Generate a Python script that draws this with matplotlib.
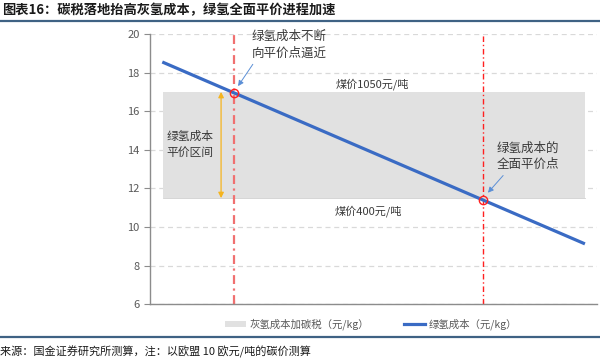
import matplotlib
matplotlib.use("Agg")
import matplotlib.pyplot as plt
from matplotlib.patches import Patch
from matplotlib.lines import Line2D

plt.rcParams['font.family'] = ['Noto Sans CJK SC', 'DejaVu Sans']

# ---- data ----
green_x = [2.75, 97.3]            # position along the (unlabelled) horizontal axis
green_cost = [18.55, 9.13]        # 绿氢成本 (元/kg)
band_x = [2.8, 97.3]              # extent of grey band
grey_cost_low = 11.5              # 煤价400元/吨 灰氢成本加碳税
grey_cost_high = 17.0             # 煤价1050元/吨 灰氢成本加碳税
parity_x = [18.7, 74.5]           # 平价点
parity_y = [16.96, 11.42]
yticks = [6, 8, 10, 12, 14, 16, 18, 20]

title = "图表16：碳税落地抬高灰氢成本，绿氢全面平价进程加速"
source = "来源：国金证券研究所测算，注：以欧盟 10 欧元/吨的碳价测算"

W, H = 600, 359
fig = plt.figure(figsize=(6, 3.59), dpi=100)
ax = fig.add_axes([150 / W, 1 - 304.3 / H, 447 / W, (304.3 - 34) / H])

ax.set_xlim(0, 100)
ax.set_ylim(6, 20)
ax.set_yticks(yticks)
ax.grid(axis='y', color='#d9d9d9', linestyle=(0, (4, 3)), linewidth=0.9)
ax.set_axisbelow(True)

# grey band
ax.fill_between(band_x, grey_cost_low, grey_cost_high, color='#e1e1e1', zorder=1, linewidth=0)
ax.plot(band_x, [grey_cost_low] * 2, color='#cfcfcf', lw=0.6, zorder=1)

# parity vertical lines
ax.axvline(parity_x[0], color='#f07070', lw=1.6, linestyle=(0, (4, 2, 1, 2)), zorder=2)
ax.axvline(parity_x[1], color='#ff2020', lw=1.0, linestyle=(0, (4, 2, 1, 2)), zorder=2)

# green hydrogen cost line
ax.plot(green_x, green_cost, color='#3a6bc4', lw=2.3, zorder=3, solid_capstyle='butt')

# circles at parity points
ax.plot(parity_x, parity_y, linestyle='none', marker='o', markersize=6,
        markerfacecolor='none', markeredgecolor='#ff2020', markeredgewidth=1.0, zorder=4)

# orange double arrow
ax.annotate('', xy=(15.9, grey_cost_low), xytext=(15.9, grey_cost_high),
            arrowprops=dict(arrowstyle='<|-|>', color='#f5b41e', lw=0.9,
                            mutation_scale=8, shrinkA=0, shrinkB=0), zorder=3)

# texts
tc = '#3a3a3a'
ax.text(22.8, 19.45, "绿氢成本不断\n向平价点逼近", fontsize=9, color=tc, va='center', ha='left',
        linespacing=1.35)
ax.annotate('', xy=(19.7, 17.3), xytext=(23.0, 18.43),
            arrowprops=dict(arrowstyle='-|>', color='#5b8fd6', lw=0.7, mutation_scale=8,
                            shrinkA=0, shrinkB=0))
ax.text(49.7, 17.39, "煤价1050元/吨", fontsize=8, color=tc, ha='center', va='center')
ax.text(8.9, 14.25, "绿氢成本\n平价区间", fontsize=8.5, color=tc, ha='center', va='center',
        linespacing=1.35)
ax.text(84.5, 13.65, "绿氢成本的\n全面平价点", fontsize=9, color=tc, ha='center', va='center',
        linespacing=1.35)
ax.annotate('', xy=(75.6, 11.78), xytext=(79.0, 12.67),
            arrowprops=dict(arrowstyle='-|>', color='#5b8fd6', lw=0.7, mutation_scale=8,
                            shrinkA=0, shrinkB=0))
ax.text(48.9, 10.85, "煤价400元/吨", fontsize=8, color=tc, ha='center', va='center')

# axes styling
for s in ['top', 'right']:
    ax.spines[s].set_visible(False)
ax.spines['left'].set_color('#8c8c8c')
ax.spines['bottom'].set_color('#8c8c8c')
ax.spines['left'].set_linewidth(1.0)
ax.spines['bottom'].set_linewidth(1.0)
ax.tick_params(axis='y', colors='#8c8c8c', labelcolor='#595959', labelsize=8, length=4, width=0.8)
ax.set_xticks(parity_x)
ax.set_xticklabels([])
ax.tick_params(axis='x', colors='#ff2020', length=3, width=0.8, direction='in')

# legend
handles = [Patch(facecolor='#e1e1e1', edgecolor='none'),
           Line2D([0], [0], color='#3a6bc4', lw=2.3)]
labels = ["灰氢成本加碳税（元/kg）", "绿氢成本（元/kg）"]
fig.legend(handles, labels, loc='center', bbox_to_anchor=(371 / W, 1 - 324 / H),
           ncol=2, frameon=False, fontsize=7.5, labelcolor='#595959',
           handlelength=2.0, handleheight=0.5, columnspacing=3.4, handletextpad=0.3)

# title & source
fig.text(2 / W, 1 - 10 / H, title, fontsize=9.5, fontweight='bold', color='#1a1a1a',
         ha='left', va='center')
fig.add_artist(Line2D([0, 1], [1 - 21 / H] * 2, color='#3f6284', lw=1.6))
fig.add_artist(Line2D([0, 1], [1 - 337 / H] * 2, color='#3f6284', lw=1.6))
fig.text(0, 1 - 352 / H, source, fontsize=8, color='#1a1a1a', ha='left', va='center')

fig.savefig('out.png', dpi=100)
